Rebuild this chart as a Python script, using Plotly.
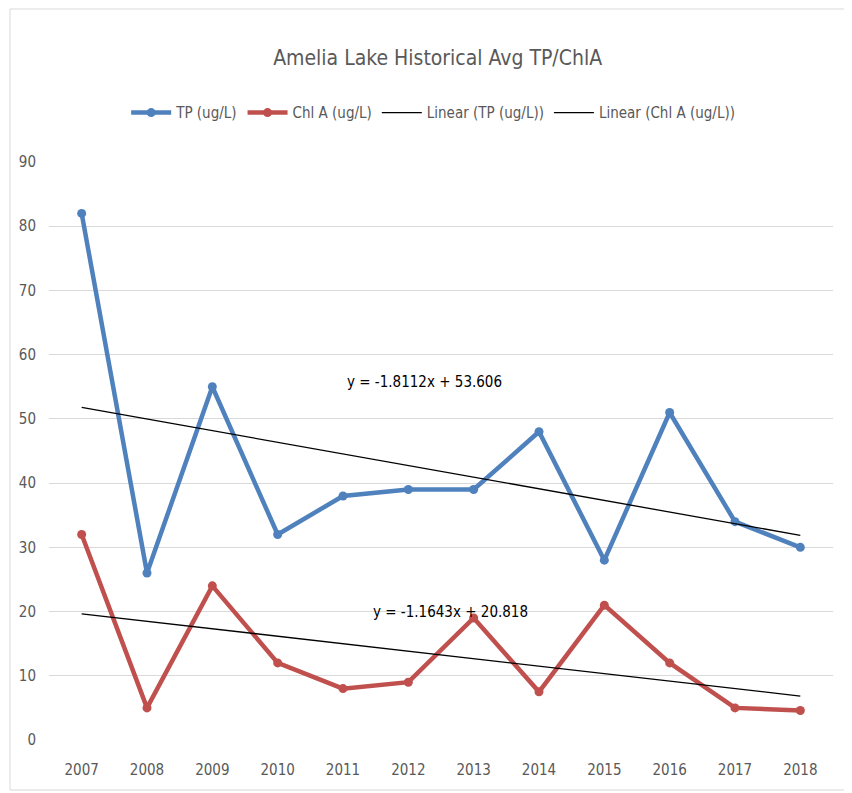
import plotly.graph_objects as go

years = ["2007", "2008", "2009", "2010", "2011", "2012",
         "2013", "2014", "2015", "2016", "2017", "2018"]
tp = [82, 26, 55, 32, 38, 39, 39, 48, 28, 51, 34, 30]
chla = [32, 5, 24, 12, 8, 9, 19, 7.5, 21, 12, 5, 4.6]

tp_slope, tp_intercept = -1.8112, 53.606
chl_slope, chl_intercept = -1.1643, 20.818

idx = list(range(1, len(years) + 1))
tp_trend = [tp_slope * i + tp_intercept for i in idx]
chl_trend = [chl_slope * i + chl_intercept for i in idx]

FONT = "Liberation Sans Narrow, DejaVu Sans Condensed, Liberation Sans, sans-serif"
GREY = "#595959"

fig = go.Figure()
fig.add_trace(go.Scatter(x=years, y=tp, name="TP (ug/L)", mode="lines+markers",
                         line=dict(color="#4f81bd", width=4.5),
                         marker=dict(size=9, color="#4f81bd")))
fig.add_trace(go.Scatter(x=years, y=chla, name="Chl A (ug/L)", mode="lines+markers",
                         line=dict(color="#c0504d", width=4.5),
                         marker=dict(size=9, color="#c0504d")))
fig.add_trace(go.Scatter(x=years, y=tp_trend, name="Linear (TP (ug/L))", mode="lines",
                         line=dict(color="black", width=1.3)))
fig.add_trace(go.Scatter(x=years, y=chl_trend, name="Linear (Chl A (ug/L))", mode="lines",
                         line=dict(color="black", width=1.3)))

fig.add_annotation(x=5.25, y=55.7, xref="x", yref="y", showarrow=False,
                   text=f"y = {tp_slope}x + {tp_intercept}",
                   font=dict(family=FONT, size=15, color="black"))
fig.add_annotation(x=5.65, y=19.9, xref="x", yref="y", showarrow=False,
                   text=f"y = {chl_slope}x + {chl_intercept}",
                   font=dict(family=FONT, size=15, color="black"))

# outer chart frame
fig.add_shape(type="rect", xref="paper", yref="paper",
              x0=-0.0497, x1=1.0204, y0=-0.0865, y1=1.2647,
              line=dict(color="#d9d9d9", width=1), fillcolor="rgba(0,0,0,0)")

fig.update_layout(
    width=844, height=785,
    margin=dict(l=41, r=19, t=154, b=53),
    paper_bgcolor="white", plot_bgcolor="white",
    title=dict(text="Amelia Lake Historical Avg TP/ChlA", x=0.509, xanchor="center",
               y=0.9363, yanchor="middle",
               font=dict(family=FONT, size=21, color=GREY)),
    legend=dict(orientation="h", x=0.49, xanchor="center", y=1.085, yanchor="middle",
                font=dict(family=FONT, size=15, color=GREY), itemwidth=40,
                bgcolor="rgba(0,0,0,0)"),
    showlegend=True,
)
fig.update_xaxes(type="category", range=[-0.5, 11.5], showgrid=False, showline=False,
                 ticks="", tickfont=dict(family=FONT, size=15, color=GREY), ticklabelstandoff=19)
fig.update_yaxes(range=[0, 90], dtick=10, showgrid=True, gridcolor="#d9d9d9", gridwidth=1,
                 zeroline=False, showline=False, ticks="",
                 tickfont=dict(family=FONT, size=15, color=GREY), ticklabelstandoff=12)

fig.write_html("out.html")
